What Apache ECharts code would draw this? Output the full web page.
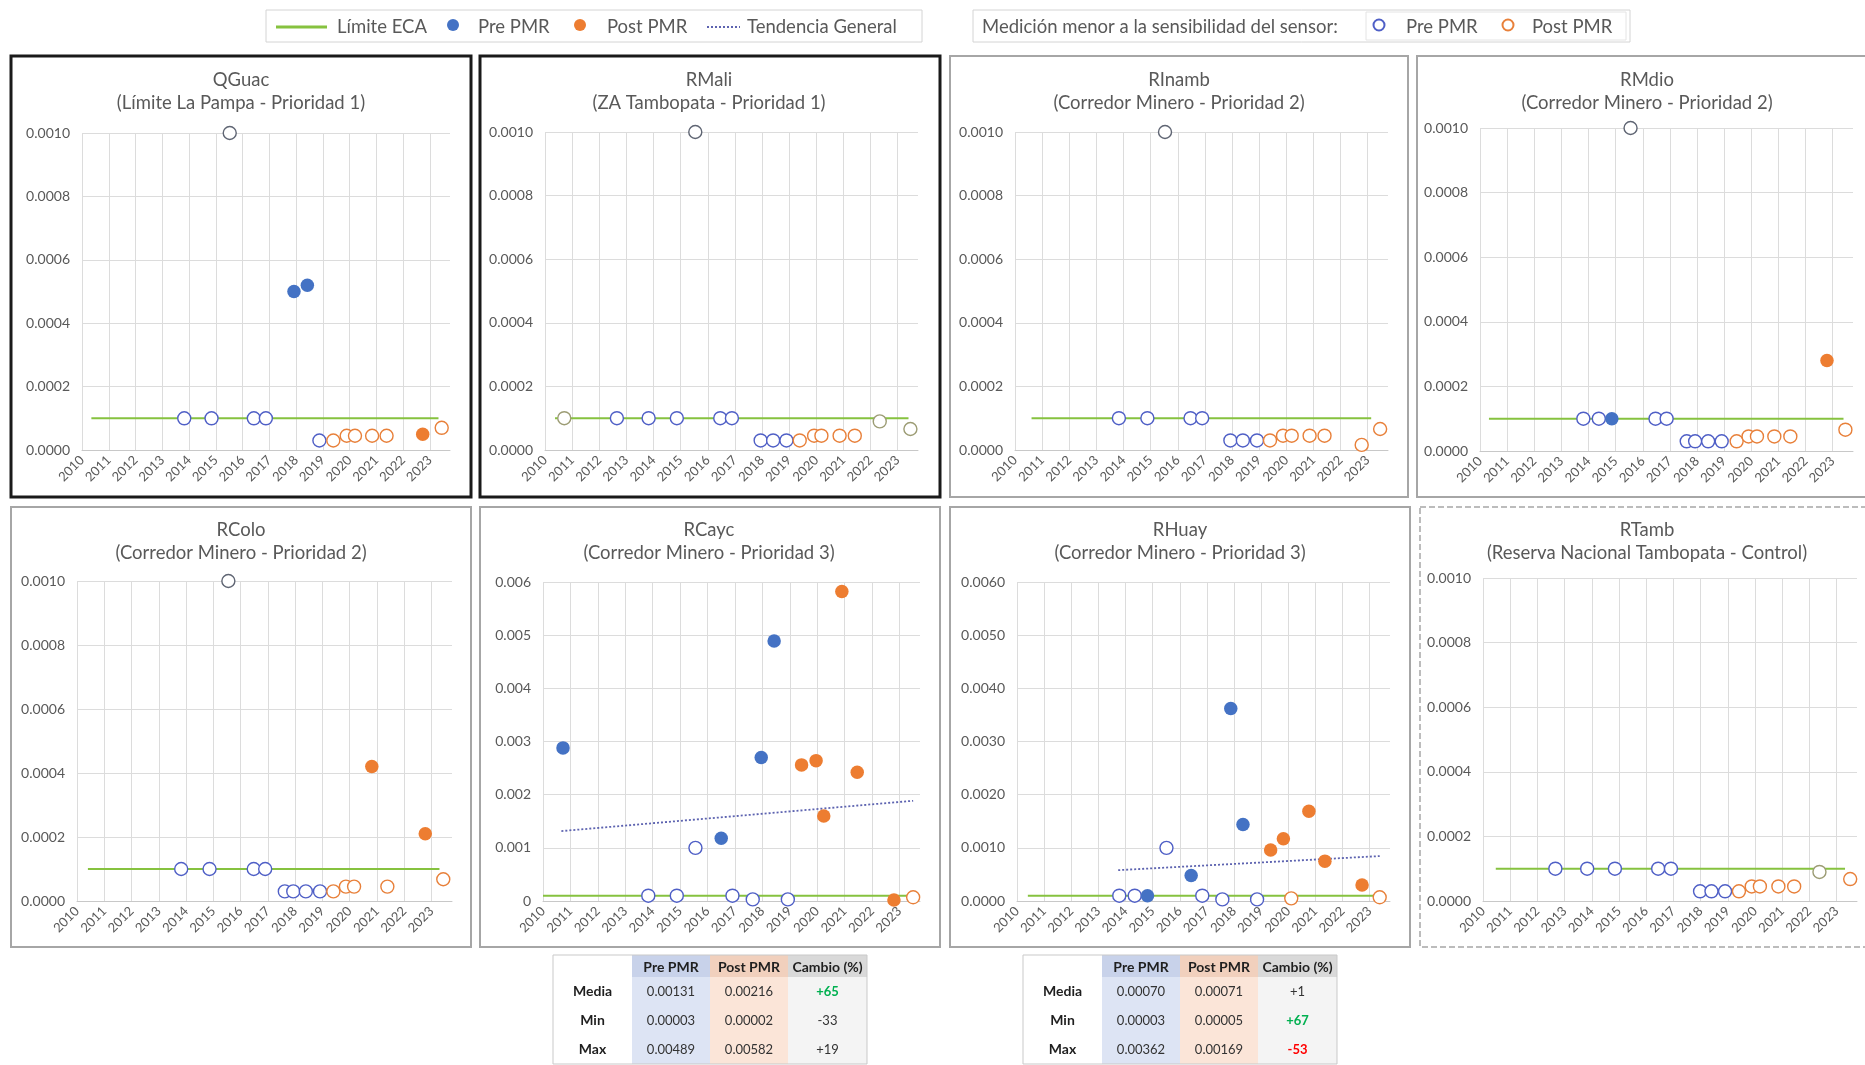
<!DOCTYPE html>
<html>
<head>
<meta charset="utf-8">
<script src="https://cdn.jsdelivr.net/npm/echarts@6/dist/echarts.min.js"></script>
<style>
  html, body { margin: 0; padding: 0; background: #ffffff; }
  #grafico { width: 1865px; height: 1065px; }
</style>
</head>
<body>
<div id="grafico"></div>
<script>
// ---- Datos: [año decimal, concentración] ----
const ANIOS = [2010, 2011, 2012, 2013, 2014, 2015, 2016, 2017, 2018, 2019, 2020, 2021, 2022, 2023];
const LIMITE_ECA = 0.0001;

// QGuac
const qguacPreLleno = [[2017.92, 0.0005], [2018.42, 0.00052]];
const qguacPostLleno = [[2022.73, 0.00005]];
const qguacPreVacio = [[2013.82, 0.0001], [2014.84, 0.0001], [2016.42, 0.0001], [2016.87, 0.0001], [2018.87, 0.00003]];
const qguacPostVacio = [[2019.39, 0.00003], [2019.89, 0.000045], [2020.2, 0.000045], [2020.84, 0.000045], [2021.38, 0.000045], [2023.44, 0.00007]];
const qguacOscuro = [[2015.52, 0.001]];
const qguacOliva = [];

// RMali
const rmaliPreLleno = [];
const rmaliPostLleno = [];
const rmaliPreVacio = [[2012.65, 0.0001], [2013.82, 0.0001], [2014.86, 0.0001], [2016.46, 0.0001], [2016.89, 0.0001], [2017.95, 0.00003], [2018.41, 0.00003], [2018.9, 0.00003]];
const rmaliPostVacio = [[2019.39, 0.00003], [2019.92, 0.000045], [2020.19, 0.000045], [2020.86, 0.000045], [2021.42, 0.000045]];
const rmaliOscuro = [[2015.54, 0.001]];
const rmaliOliva = [[2010.71, 0.0001], [2022.34, 0.00009], [2023.47, 0.000066]];

// RInamb
const rinambPreLleno = [];
const rinambPostLleno = [];
const rinambPreVacio = [[2013.83, 0.0001], [2014.88, 0.0001], [2016.47, 0.0001], [2016.9, 0.0001], [2017.94, 0.00003], [2018.4, 0.00003], [2018.92, 0.00003]];
const rinambPostVacio = [[2019.4, 0.00003], [2019.88, 0.000045], [2020.2, 0.000045], [2020.86, 0.000045], [2021.41, 0.000045], [2022.78, 0.000016], [2023.46, 0.000066]];
const rinambOscuro = [[2015.53, 0.001]];
const rinambOliva = [];

// RMdio
const rmdioPreLleno = [[2014.86, 0.0001]];
const rmdioPostLleno = [[2022.79, 0.00028]];
const rmdioPreVacio = [[2013.81, 0.0001], [2014.38, 0.0001], [2016.47, 0.0001], [2016.88, 0.0001], [2017.62, 0.00003], [2017.93, 0.00003], [2018.41, 0.00003], [2018.91, 0.00003]];
const rmdioPostVacio = [[2019.46, 0.00003], [2019.9, 0.000045], [2020.21, 0.000045], [2020.85, 0.000045], [2021.44, 0.000045], [2023.47, 0.000066]];
const rmdioOscuro = [[2015.55, 0.001]];
const rmdioOliva = [];

// RColo
const rcoloPreLleno = [];
const rcoloPostLleno = [[2020.81, 0.00042], [2022.77, 0.00021]];
const rcoloPreVacio = [[2013.82, 0.0001], [2014.86, 0.0001], [2016.48, 0.0001], [2016.9, 0.0001], [2017.62, 0.00003], [2017.93, 0.00003], [2018.39, 0.00003], [2018.91, 0.00003]];
const rcoloPostVacio = [[2019.4, 0.00003], [2019.86, 0.000045], [2020.16, 0.000045], [2021.38, 0.000045], [2023.43, 0.000068]];
const rcoloOscuro = [[2015.55, 0.001]];
const rcoloOliva = [];

// RCayc
const rcaycPreLleno = [[2010.73, 0.00288], [2016.5, 0.00118], [2017.96, 0.0027], [2018.43, 0.00489]];
const rcaycPostLleno = [[2019.43, 0.00256], [2019.96, 0.00264], [2020.24, 0.0016], [2020.9, 0.00582], [2021.46, 0.00242], [2022.8, 0.00002]];
const rcaycPreVacio = [[2013.84, 0.0001], [2014.88, 0.0001], [2015.56, 0.001], [2016.91, 0.0001], [2017.65, 0.00003], [2018.93, 0.00003]];
const rcaycPostVacio = [[2023.5, 0.00007]];
const rcaycTendencia = [[2010.67, 0.001315], [2023.5, 0.001885]];

// RHuay
const rhuayPreLleno = [[2014.81, 0.0001], [2016.42, 0.00048], [2017.88, 0.00362], [2018.33, 0.00144]];
const rhuayPostLleno = [[2019.35, 0.00096], [2019.82, 0.00117], [2020.76, 0.00169], [2021.35, 0.00075], [2022.72, 0.0003]];
const rhuayPreVacio = [[2013.77, 0.0001], [2014.34, 0.0001], [2015.51, 0.001], [2016.83, 0.0001], [2017.57, 0.00003], [2018.85, 0.00003]];
const rhuayPostVacio = [[2020.11, 0.00005], [2023.37, 0.00007]];
const rhuayTendencia = [[2013.73, 0.00058], [2023.37, 0.000845]];

// RTamb
const rtambPreLleno = [];
const rtambPostLleno = [];
const rtambPreVacio = [[2012.66, 0.0001], [2013.83, 0.0001], [2014.85, 0.0001], [2016.44, 0.0001], [2016.91, 0.0001], [2017.98, 0.00003], [2018.4, 0.00003], [2018.9, 0.00003]];
const rtambPostVacio = [[2019.41, 0.00003], [2019.88, 0.000045], [2020.18, 0.000045], [2020.86, 0.000045], [2021.44, 0.000045], [2023.5, 0.000068]];
const rtambOliva = [[2022.37, 0.00009]];

// Tramo horizontal del Límite ECA en cada estación (años)
const limiteTramos = [[2010.35, 2023.32], [2010.37, 2023.4], [2010.61, 2023.13], [2010.33, 2023.4], [2010.4, 2023.29], [2010.0, 2023.45], [2010.4, 2023.35], [2010.47, 2023.31]];

// Escalas verticales
const ejeYMax = [0.001, 0.001, 0.001, 0.001, 0.001, 0.006, 0.006, 0.001];
const ejeYPaso = [0.0002, 0.0002, 0.0002, 0.0002, 0.0002, 0.001, 0.001, 0.0002];
const ejeYDecimales = [4, 4, 4, 4, 4, 3, 4, 4];

// Tablas resumen
const tablaEncabezado = ['Pre PMR', 'Post PMR', 'Cambio (%)'];
const tablaFilas = ['Media', 'Min', 'Max'];
const rcaycTablaPre = ['0.00131', '0.00003', '0.00489'];
const rcaycTablaPost = ['0.00216', '0.00002', '0.00582'];
const rcaycTablaCambio = ['+65', '-33', '+19'];
const rhuayTablaPre = ['0.00070', '0.00003', '0.00362'];
const rhuayTablaPost = ['0.00071', '0.00005', '0.00169'];
const rhuayTablaCambio = ['+1', '+67', '-53'];

// ---- Estaciones ----
const estaciones = [
  { nombre: 'QGuac', sub: '(Límite La Pampa - Prioridad 1)', preLleno: qguacPreLleno, postLleno: qguacPostLleno, preVacio: qguacPreVacio, postVacio: qguacPostVacio, oscuro: qguacOscuro, oliva: qguacOliva },
  { nombre: 'RMali', sub: '(ZA Tambopata - Prioridad 1)', preLleno: rmaliPreLleno, postLleno: rmaliPostLleno, preVacio: rmaliPreVacio, postVacio: rmaliPostVacio, oscuro: rmaliOscuro, oliva: rmaliOliva },
  { nombre: 'RInamb', sub: '(Corredor Minero - Prioridad 2)', preLleno: rinambPreLleno, postLleno: rinambPostLleno, preVacio: rinambPreVacio, postVacio: rinambPostVacio, oscuro: rinambOscuro, oliva: rinambOliva },
  { nombre: 'RMdio', sub: '(Corredor Minero - Prioridad 2)', preLleno: rmdioPreLleno, postLleno: rmdioPostLleno, preVacio: rmdioPreVacio, postVacio: rmdioPostVacio, oscuro: rmdioOscuro, oliva: rmdioOliva },
  { nombre: 'RColo', sub: '(Corredor Minero - Prioridad 2)', preLleno: rcoloPreLleno, postLleno: rcoloPostLleno, preVacio: rcoloPreVacio, postVacio: rcoloPostVacio, oscuro: rcoloOscuro, oliva: rcoloOliva },
  { nombre: 'RCayc', sub: '(Corredor Minero - Prioridad 3)', preLleno: rcaycPreLleno, postLleno: rcaycPostLleno, preVacio: rcaycPreVacio, postVacio: rcaycPostVacio, tendencia: rcaycTendencia },
  { nombre: 'RHuay', sub: '(Corredor Minero - Prioridad 3)', preLleno: rhuayPreLleno, postLleno: rhuayPostLleno, preVacio: rhuayPreVacio, postVacio: rhuayPostVacio, tendencia: rhuayTendencia },
  { nombre: 'RTamb', sub: '(Reserva Nacional Tambopata - Control)', preLleno: rtambPreLleno, postLleno: rtambPostLleno, preVacio: rtambPreVacio, postVacio: rtambPostVacio, oliva: rtambOliva }
];

// ---- Diseño ----
const FUENTE = 'Lato, "Open Sans", sans-serif';
const GRIS_TEXTO = '#595959';
const AZUL = '#4472C4';
const NARANJA = '#ED7D31';
const AZUL_BORDE = '#4F5FC6';
const NARANJA_BORDE = '#E8803A';
const VERDE = '#86C23F';
const TENDENCIA = '#5D63B0';

const marcos = [
  { x: 11, y: 56, w: 460, h: 441, color: '#1a1a1a', ancho: 3, guion: null },
  { x: 480, y: 56, w: 460, h: 441, color: '#1a1a1a', ancho: 3, guion: null },
  { x: 950, y: 56, w: 458, h: 441, color: '#a6a6a6', ancho: 2, guion: null },
  { x: 1417, y: 56, w: 460, h: 441, color: '#a6a6a6', ancho: 2, guion: null },
  { x: 11, y: 507, w: 460, h: 440, color: '#a6a6a6', ancho: 2, guion: null },
  { x: 480, y: 507, w: 460, h: 440, color: '#a6a6a6', ancho: 2, guion: null },
  { x: 950, y: 507, w: 460, h: 440, color: '#a6a6a6', ancho: 2, guion: null },
  { x: 1420, y: 507, w: 450, h: 440, color: '#a6a6a6', ancho: 1.5, guion: [6, 3] }
];
const rejillas = [
  { left: 82, top: 133, width: 368, height: 317 },
  { left: 545, top: 132, width: 373, height: 318 },
  { left: 1015, top: 132, width: 373, height: 318 },
  { left: 1480, top: 128, width: 373, height: 323 },
  { left: 77, top: 581, width: 375, height: 320 },
  { left: 543, top: 582, width: 377, height: 319 },
  { left: 1017, top: 582, width: 373, height: 319 },
  { left: 1483, top: 578, width: 374, height: 323 }
];
const centrosTitulo = [[241, 80], [709, 80], [1179, 80], [1647, 80], [241, 530], [709, 530], [1180, 530], [1647, 530]];

const grid = [], xAxis = [], yAxis = [], series = [], graphic = [];

estaciones.forEach(function (est, i) {
  grid.push(Object.assign({ containLabel: false }, rejillas[i]));
  xAxis.push({
    gridIndex: i, type: 'value', min: 2010, max: 2023.75, interval: 1,
    axisLine: { show: true, onZero: false, lineStyle: { color: '#c8c8c8', width: 1 } },
    axisTick: { show: false },
    splitLine: { show: true, showMaxLine: false, lineStyle: { color: '#dcdcdc', width: 1 } },
    axisLabel: {
      rotate: 45, margin: 8, color: GRIS_TEXTO, fontSize: 13, fontFamily: FUENTE,
      showMaxLabel: false,
      formatter: function (v) { return ANIOS.indexOf(v) >= 0 ? String(v) : ''; }
    }
  });
  yAxis.push({
    gridIndex: i, type: 'value', min: 0, max: ejeYMax[i], interval: ejeYPaso[i],
    axisLine: { show: false }, axisTick: { show: false },
    splitLine: { show: true, lineStyle: { color: '#dcdcdc', width: 1 } },
    axisLabel: {
      margin: 12, color: GRIS_TEXTO, fontSize: 14, fontFamily: FUENTE,
      formatter: function (v) {
        if (v === 0 && ejeYDecimales[i] === 3) return '0';
        return v.toFixed(ejeYDecimales[i]);
      }
    }
  });

  // Límite ECA
  series.push({
    type: 'line', xAxisIndex: i, yAxisIndex: i, silent: true, symbol: 'none', z: 2,
    data: [[limiteTramos[i][0], LIMITE_ECA], [limiteTramos[i][1], LIMITE_ECA]],
    lineStyle: { color: VERDE, width: 2 }
  });
  if (est.tendencia) {
    series.push({
      type: 'line', xAxisIndex: i, yAxisIndex: i, silent: true, symbol: 'none', z: 3,
      data: est.tendencia, lineStyle: { color: TENDENCIA, width: 1.8, type: [2, 2] }
    });
  }
  const vacio = function (datos, borde) {
    return {
      type: 'scatter', xAxisIndex: i, yAxisIndex: i, silent: true, z: 4,
      symbol: 'circle', symbolSize: 13, data: datos,
      itemStyle: { color: '#ffffff', borderColor: borde, borderWidth: 1.4, opacity: 1 }
    };
  };
  const lleno = function (datos, color) {
    return {
      type: 'scatter', xAxisIndex: i, yAxisIndex: i, silent: true, z: 5,
      symbol: 'circle', symbolSize: 13.5, data: datos,
      itemStyle: { color: color, opacity: 1 }
    };
  };
  series.push(vacio(est.preVacio, AZUL_BORDE));
  series.push(vacio(est.postVacio, NARANJA_BORDE));
  if (est.oscuro) series.push(vacio(est.oscuro, '#5F6573'));
  if (est.oliva) series.push(vacio(est.oliva, '#9C9C74'));
  series.push(lleno(est.preLleno, AZUL));
  series.push(lleno(est.postLleno, NARANJA));

  // Marco y título del panel
  const m = marcos[i];
  graphic.push({
    type: 'rect', silent: true, z: 0,
    shape: { x: m.x, y: m.y, width: m.w, height: m.h },
    style: { fill: 'none', stroke: m.color, lineWidth: m.ancho, lineDash: m.guion }
  });
  graphic.push({
    type: 'text', silent: true, x: centrosTitulo[i][0], y: centrosTitulo[i][1],
    style: { text: est.nombre, fill: GRIS_TEXTO, font: '18.5px ' + FUENTE, align: 'center', verticalAlign: 'middle' }
  });
  graphic.push({
    type: 'text', silent: true, x: centrosTitulo[i][0], y: centrosTitulo[i][1] + 23,
    style: { text: est.sub, fill: GRIS_TEXTO, font: '18.5px ' + FUENTE, align: 'center', verticalAlign: 'middle' }
  });
});

// ---- Leyendas ----
function textoLeyenda(x, texto) {
  return { type: 'text', silent: true, x: x, y: 27, style: { text: texto, fill: GRIS_TEXTO, font: '18.5px ' + FUENTE, verticalAlign: 'middle' } };
}
graphic.push({ type: 'rect', silent: true, shape: { x: 266, y: 10, width: 656, height: 32 }, style: { fill: '#fff', stroke: '#d4d4d4', lineWidth: 1 } });
graphic.push({ type: 'line', silent: true, shape: { x1: 276, y1: 27, x2: 327, y2: 27 }, style: { stroke: VERDE, lineWidth: 3 } });
graphic.push(textoLeyenda(337, 'Límite ECA'));
graphic.push({ type: 'circle', silent: true, shape: { cx: 453, cy: 25, r: 6 }, style: { fill: AZUL } });
graphic.push(textoLeyenda(478, 'Pre PMR'));
graphic.push({ type: 'circle', silent: true, shape: { cx: 580, cy: 25, r: 6 }, style: { fill: NARANJA } });
graphic.push(textoLeyenda(607, 'Post PMR'));
graphic.push({ type: 'line', silent: true, shape: { x1: 707, y1: 27, x2: 740, y2: 27 }, style: { stroke: TENDENCIA, lineWidth: 2, lineDash: [2, 2] } });
graphic.push(textoLeyenda(747, 'Tendencia General'));

graphic.push({ type: 'rect', silent: true, shape: { x: 973, y: 10, width: 657, height: 32 }, style: { fill: '#fff', stroke: '#d4d4d4', lineWidth: 1 } });
graphic.push({ type: 'rect', silent: true, shape: { x: 1366, y: 12, width: 260, height: 28 }, style: { fill: 'none', stroke: '#e4e4e4', lineWidth: 1 } });
graphic.push(textoLeyenda(982, 'Medición menor a la sensibilidad del sensor:'));
graphic.push({ type: 'circle', silent: true, shape: { cx: 1379, cy: 25, r: 5.5 }, style: { fill: '#fff', stroke: AZUL_BORDE, lineWidth: 2 } });
graphic.push(textoLeyenda(1406, 'Pre PMR'));
graphic.push({ type: 'circle', silent: true, shape: { cx: 1508, cy: 25, r: 5.5 }, style: { fill: '#fff', stroke: NARANJA_BORDE, lineWidth: 2 } });
graphic.push(textoLeyenda(1532, 'Post PMR'));

// ---- Tablas resumen ----
const tonoCambio = { '+65': '#00B050', '+67': '#00B050', '-53': '#FF0000' };
function tabla(x0, y0, pre, post, cambio) {
  const anchos = [79, 78, 78, 79];
  const altoEnc = 22, altoFila = 29;
  const fondoEnc = ['#ffffff', '#C8D2EA', '#F1D0BD', '#D9D9D9'];
  const fondoCuerpo = ['#ffffff', '#DDE4F4', '#FBE5D8', '#F4F4F4'];
  const totalAlto = altoEnc + altoFila * tablaFilas.length;
  let x = x0;
  const columnas = [tablaFilas, pre, post, cambio];
  anchos.forEach(function (w, c) {
    graphic.push({ type: 'rect', silent: true, shape: { x: x, y: y0, width: w, height: altoEnc }, style: { fill: fondoEnc[c] } });
    graphic.push({ type: 'rect', silent: true, shape: { x: x, y: y0 + altoEnc, width: w, height: altoFila * tablaFilas.length }, style: { fill: fondoCuerpo[c] } });
    if (c > 0) {
      graphic.push({ type: 'text', silent: true, x: x + w / 2, y: y0 + altoEnc / 2 + 1,
        style: { text: tablaEncabezado[c - 1], fill: '#1f1f1f', font: 'bold 14px ' + FUENTE, align: 'center', verticalAlign: 'middle' } });
    }
    columnas[c].forEach(function (valor, r) {
      const esEtiqueta = c === 0;
      const tono = c === 3 && tonoCambio[valor];
      graphic.push({ type: 'text', silent: true, x: x + w / 2, y: y0 + altoEnc + altoFila * r + altoFila / 2,
        style: {
          text: valor, align: 'center', verticalAlign: 'middle',
          fill: esEtiqueta ? '#1f1f1f' : (tono || '#333333'),
          font: (esEtiqueta || tono ? 'bold ' : '') + (esEtiqueta ? '14px ' : '13px ') + FUENTE
        } });
    });
    x += w;
  });
  graphic.push({ type: 'rect', silent: true, shape: { x: x0, y: y0, width: x - x0, height: totalAlto },
    style: { fill: 'none', stroke: '#c9c9c9', lineWidth: 1 } });
}
tabla(553, 955, rcaycTablaPre, rcaycTablaPost, rcaycTablaCambio);
tabla(1023, 955, rhuayTablaPre, rhuayTablaPost, rhuayTablaCambio);

const grafico = echarts.init(document.getElementById('grafico'), null, { renderer: 'canvas' });
grafico.setOption({
  backgroundColor: '#ffffff',
  animation: false,
  grid: grid,
  xAxis: xAxis,
  yAxis: yAxis,
  series: series,
  graphic: { elements: graphic }
});
</script>
</body>
</html>
